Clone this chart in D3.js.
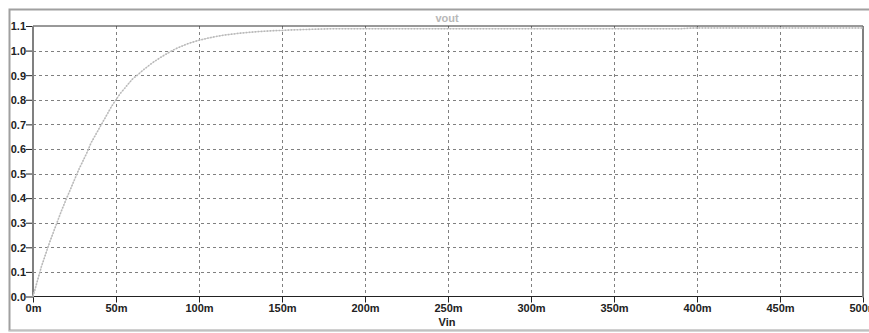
<!DOCTYPE html>
<html><head><meta charset="utf-8">
<script src="https://cdn.jsdelivr.net/npm/d3@7"></script>
<style>body{margin:0;background:#fff;}svg{display:block;}</style>
</head><body>
<svg id="c" width="869" height="333"></svg>
<script>
const vin = [0,2.5,5,7.5,10,12.5,15,17.5,20,22.5,25,27.5,30,32.5,35,37.5,40,42.5,45,47.5,50,52.5,55,57.5,60,62.5,65,67.5,70,72.5,75,77.5,80,82.5,85,87.5,90,92.5,95,97.5,100,105,110,115,120,125,130,135,140,145,150,155,160,165,170,175,180,190,200,220,240,260,280,300,320,340,360,380,390,395,400,420,440,460,480,500];
const vout = [0,0.06,0.12,0.17,0.22,0.265,0.31,0.355,0.395,0.435,0.475,0.515,0.55,0.585,0.625,0.655,0.685,0.715,0.745,0.775,0.80,0.825,0.845,0.865,0.885,0.898,0.913,0.927,0.94,0.953,0.964,0.975,0.985,0.995,1.004,1.012,1.019,1.026,1.032,1.037,1.042,1.05,1.057,1.063,1.067,1.071,1.074,1.077,1.079,1.081,1.082,1.084,1.085,1.086,1.087,1.088,1.089,1.089,1.089,1.089,1.089,1.089,1.089,1.089,1.089,1.089,1.089,1.089,1.089,1.091,1.092,1.092,1.092,1.092,1.092,1.092];
const xTicks = [0,50,100,150,200,250,300,350,400,450,500];
const yTicks = [0,0.1,0.2,0.3,0.4,0.5,0.6,0.7,0.8,0.9,1.0,1.1];
const title = "vout", xLabel = "Vin";

const svg = d3.select("#c");
const L = 33, R = 863, T = 26, B = 296.5;
const x = d3.scaleLinear().domain([0,500]).range([L,R]);
const y = d3.scaleLinear().domain([0,1.1]).range([B,T]);

// outer frame
svg.append("rect").attr("x",9.5).attr("y",9.5).attr("width",880).attr("height",321)
  .attr("fill","#fff").attr("stroke","#a0a0a0").attr("stroke-width",2);
svg.append("line").attr("x1",9).attr("x2",869).attr("y1",331).attr("y2",331).attr("stroke","#e0e0e0");

// grid
const g = svg.append("g");
xTicks.filter(d=>d>0&&d<500).forEach(d=>{
  g.append("line").attr("x1",Math.round(x(d))+0.5).attr("x2",Math.round(x(d))+0.5).attr("y1",T).attr("y2",B)
   .attr("stroke","#808080").attr("stroke-dasharray","3,3");
});
yTicks.filter(d=>d>0&&d<1.1).forEach(d=>{
  g.append("line").attr("x1",L).attr("x2",R).attr("y1",Math.round(y(d))+0.5).attr("y2",Math.round(y(d))+0.5)
   .attr("stroke","#808080").attr("stroke-dasharray","3,3");
});

// axes
const xAxis = d3.axisBottom(x).tickValues(xTicks).tickSize(6).tickFormat(d=>d+"m");
const yAxis = d3.axisLeft(y).tickValues(yTicks).tickSize(7).tickFormat(d3.format(".1f"));
const xa = svg.append("g").attr("transform",`translate(0,${B})`).call(xAxis);
const ya = svg.append("g").attr("transform",`translate(${L},0)`).call(yAxis);
[xa,ya].forEach(a=>{
  a.select(".domain").remove();
  a.selectAll(".tick line").attr("stroke","#222");
  a.selectAll("text").attr("fill","#222").style("font-family","Liberation Sans, Arial, sans-serif")
   .style("font-size","11px").style("font-weight","bold");
});
xa.selectAll("text").attr("dy","0.9em").attr("y",6);
ya.selectAll("text").attr("x",-7).attr("dy","0.35em");

// plot border
svg.append("line").attr("x1",L).attr("x2",R).attr("y1",T).attr("y2",T).attr("stroke","#333");
svg.append("line").attr("x1",L).attr("x2",R).attr("y1",B).attr("y2",B).attr("stroke","#222");
svg.append("line").attr("x1",L).attr("x2",L).attr("y1",T).attr("y2",B+1).attr("stroke","#808080").attr("stroke-width",2);
svg.append("line").attr("x1",R).attr("x2",R).attr("y1",T).attr("y2",B+1).attr("stroke","#808080").attr("stroke-width",2);

// trace
const pts = vin.map((v,i)=>[v,vout[i]]);
const ln = d3.line().x(d=>x(d[0])).y(d=>y(d[1]));
svg.append("path").datum(pts).attr("d",ln)
  .attr("fill","none").attr("stroke","#d0d0d0").attr("stroke-width",1);
svg.append("path").datum(pts).attr("d",ln)
  .attr("fill","none").attr("stroke","#b8b8b8").attr("stroke-width",1.6).attr("stroke-dasharray","1.5,1.5");

// title & label
svg.append("text").attr("x",447).attr("y",22).attr("text-anchor","middle").text(title)
  .attr("fill","#b8b8b8").style("font-family","Liberation Sans, Arial, sans-serif").style("font-size","11px").style("font-weight","bold");
svg.append("text").attr("x",447).attr("y",326).attr("text-anchor","middle").text(xLabel)
  .attr("fill","#222").style("font-family","Liberation Sans, Arial, sans-serif").style("font-size","11px").style("font-weight","bold");
</script>
</body></html>
